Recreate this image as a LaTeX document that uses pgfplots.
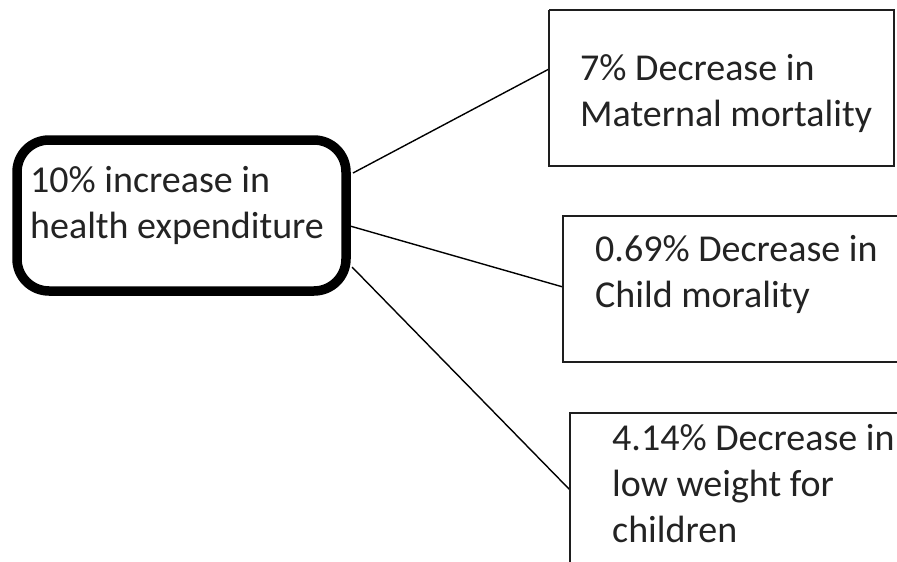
\documentclass[border=0pt]{standalone}
\usepackage{fontspec}
\setmainfont{Carlito}
\usepackage{pgfplots}
\pgfplotsset{compat=1.18}
\usepackage{pgfplotstable}

\definecolor{txt}{RGB}{35,35,35}
\definecolor{edge}{RGB}{30,30,30}

% box outlines and connectors, in pixel coordinates of the picture
\pgfplotstableread{
x y
180 140
346 140
346 291
17 291
17 140
180 140
}\causebox
\pgfplotstableread{
x y
549 10
894 10
894 166
549 166
549 10
}\boxa
\pgfplotstableread{
x y
899 216
563 216
563 362
899 362
}\boxb
\pgfplotstableread{
x y
899 413
570 413
570 566
}\boxc

\begin{document}
\begin{tikzpicture}
\begin{axis}[
width=897pt, height=562pt, scale only axis,
xmin=0, xmax=897, ymin=0, ymax=562,
y dir=reverse,
axis lines=box, axis line style={draw=none},
ticks=none,
clip=true,
]
% connectors
\addplot [black, line width=1.4pt] coordinates {(353,173) (549,69)};
\addplot [black, line width=1.4pt] coordinates {(350,226) (563,287)};
\addplot [black, line width=1.4pt] coordinates {(352,267) (570,490)};
% outcome boxes
\addplot [edge, line width=2pt] table {\boxa};
\addplot [edge, line width=2pt] table {\boxb};
\addplot [edge, line width=2pt] table {\boxc};
% cause box
\addplot [black, line width=9.5pt, rounded corners=32pt, fill=white] table {\causebox};

\begin{scope}[every node/.style={anchor=base west, inner sep=0pt, text=txt, font=\fontsize{38}{46}\selectfont}]
\node at (axis cs:30,192) {10\% increase in};
\node at (axis cs:30,238) {health expenditure};
\node at (axis cs:580,80) {7\% Decrease in};
\node at (axis cs:580,126) {Maternal mortality};
\node at (axis cs:595,261) {0.69\% Decrease in};
\node at (axis cs:595,307) {Child morality};
\node at (axis cs:612,450) {4.14\% Decrease in};
\node at (axis cs:612,496) {low weight for};
\node at (axis cs:612,542) {children};
\end{scope}
\end{axis}
\end{tikzpicture}
\end{document}
